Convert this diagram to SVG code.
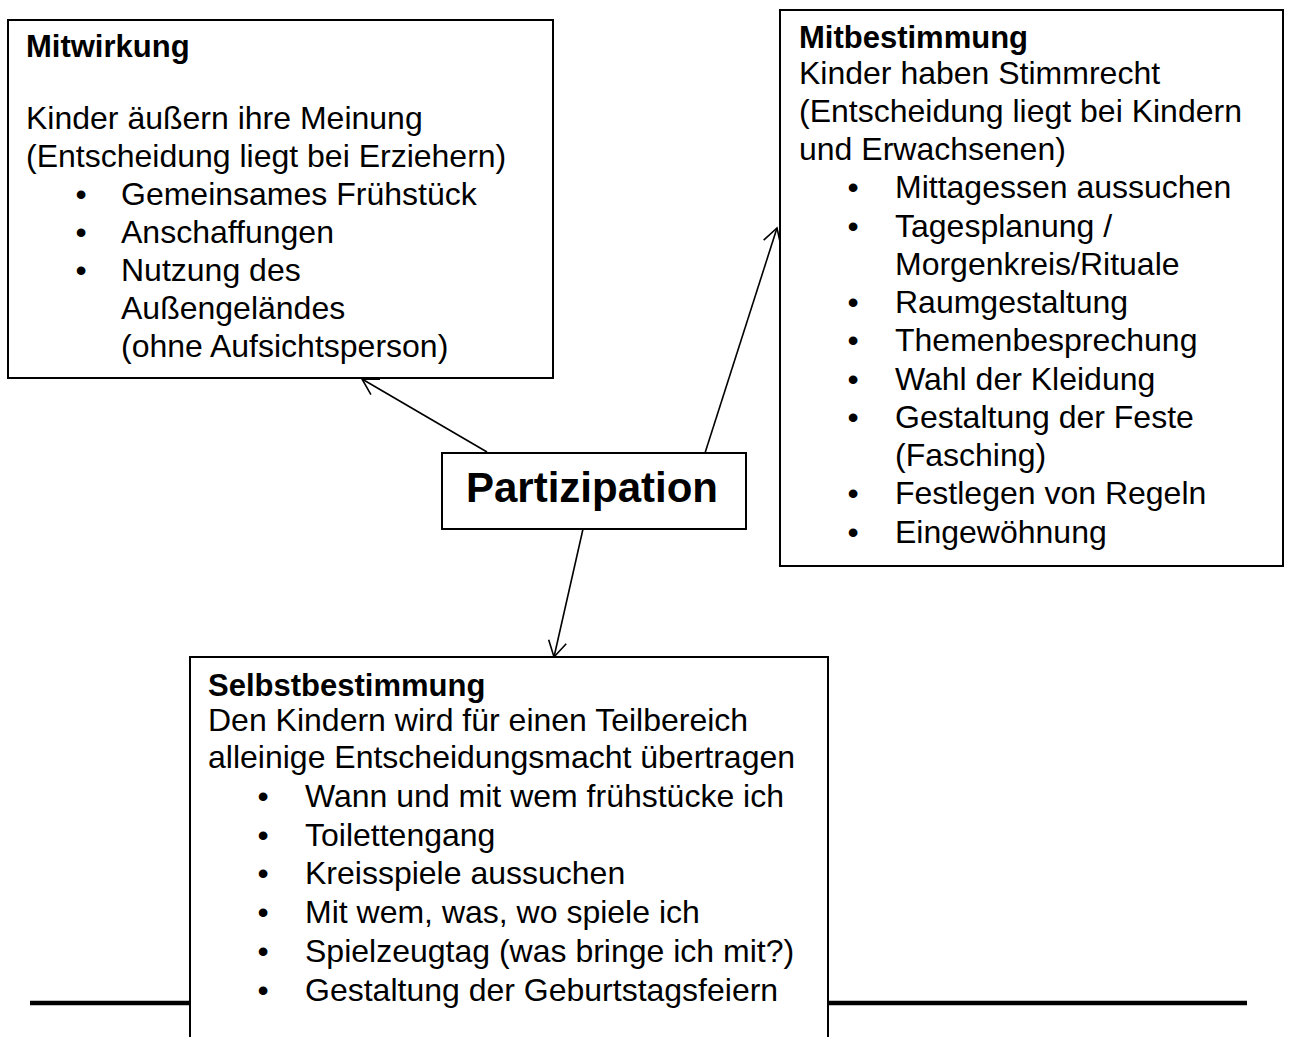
<svg xmlns="http://www.w3.org/2000/svg" width="1295" height="1037" viewBox="0 0 1295 1037">
<defs>
<style>
.box{fill:#fff;stroke:#000;stroke-width:2}
.t{font-family:"Liberation Sans",Arial,sans-serif;font-size:32px;fill:#000}
.h{font-family:"Liberation Sans",Arial,sans-serif;font-size:31px;font-weight:bold;fill:#000}
.big{font-family:"Liberation Sans",Arial,sans-serif;font-size:42px;font-weight:bold;fill:#000}
.b{text-anchor:middle}
.conn{stroke:#000;stroke-width:1.6;fill:none}
</style>
<marker id="arr" markerUnits="userSpaceOnUse" markerWidth="40" markerHeight="40" viewBox="-20 -20 40 40" refX="0" refY="0" orient="auto">
<path d="M-15.6,-9 L0,0 L-15.6,9" fill="none" stroke="#000" stroke-width="1.6"/>
</marker>
</defs>
<rect width="1295" height="1037" fill="#fff"/>
<line x1="30" y1="1003" x2="1247" y2="1003" stroke="#000" stroke-width="4.5"/>
<g id="connectors">
<line class="conn" x1="487" y1="452" x2="362" y2="379" marker-end="url(#arr)"/>
<line class="conn" x1="705" y1="453" x2="777" y2="228" marker-end="url(#arr)"/>
<line class="conn" x1="583" y1="529" x2="554" y2="657" marker-end="url(#arr)"/>
</g>
<g id="mitwirkung">
<rect class="box" x="8" y="20" width="545" height="358"/>
<text class="h" x="26" y="57">Mitwirkung</text>
<text class="t" x="26" y="129">Kinder äußern ihre Meinung</text>
<text class="t" x="26" y="167">(Entscheidung liegt bei Erziehern)</text>
<text class="t b" x="81" y="205">•</text>
<text class="t" x="121" y="205">Gemeinsames Frühstück</text>
<text class="t b" x="81" y="243">•</text>
<text class="t" x="121" y="243">Anschaffungen</text>
<text class="t b" x="81" y="281">•</text>
<text class="t" x="121" y="281">Nutzung des</text>
<text class="t" x="121" y="319">Außengeländes</text>
<text class="t" x="121" y="357">(ohne Aufsichtsperson)</text>
</g>
<g id="mitbestimmung">
<rect class="box" x="780" y="10" width="503" height="556"/>
<text class="h" x="799" y="48">Mitbestimmung</text>
<text class="t" x="799" y="84">Kinder haben Stimmrecht</text>
<text class="t" x="799" y="122">(Entscheidung liegt bei Kindern</text>
<text class="t" x="799" y="160">und Erwachsenen)</text>
<text class="t b" x="853" y="198">•</text>
<text class="t" x="895" y="198">Mittagessen aussuchen</text>
<text class="t b" x="853" y="237">•</text>
<text class="t" x="895" y="237">Tagesplanung /</text>
<text class="t" x="895" y="275">Morgenkreis/Rituale</text>
<text class="t b" x="853" y="313">•</text>
<text class="t" x="895" y="313">Raumgestaltung</text>
<text class="t b" x="853" y="351">•</text>
<text class="t" x="895" y="351">Themenbesprechung</text>
<text class="t b" x="853" y="390">•</text>
<text class="t" x="895" y="390">Wahl der Kleidung</text>
<text class="t b" x="853" y="428">•</text>
<text class="t" x="895" y="428">Gestaltung der Feste</text>
<text class="t" x="895" y="466">(Fasching)</text>
<text class="t b" x="853" y="504">•</text>
<text class="t" x="895" y="504">Festlegen von Regeln</text>
<text class="t b" x="853" y="543">•</text>
<text class="t" x="895" y="543">Eingewöhnung</text>
</g>
<g id="partizipation">
<rect class="box" x="442" y="453" width="304" height="76"/>
<text class="big" x="592" y="502" text-anchor="middle">Partizipation</text>
</g>
<g id="selbstbestimmung">
<rect class="box" x="190" y="657" width="638" height="400"/>
<text class="h" x="208" y="696">Selbstbestimmung</text>
<text class="t" x="208" y="731">Den Kindern wird für einen Teilbereich</text>
<text class="t" x="208" y="768">alleinige Entscheidungsmacht übertragen</text>
<text class="t b" x="263" y="807">•</text>
<text class="t" x="305" y="807">Wann und mit wem frühstücke ich</text>
<text class="t b" x="263" y="846">•</text>
<text class="t" x="305" y="846">Toilettengang</text>
<text class="t b" x="263" y="884">•</text>
<text class="t" x="305" y="884">Kreisspiele aussuchen</text>
<text class="t b" x="263" y="923">•</text>
<text class="t" x="305" y="923">Mit wem, was, wo spiele ich</text>
<text class="t b" x="263" y="962">•</text>
<text class="t" x="305" y="962">Spielzeugtag (was bringe ich mit?)</text>
<text class="t b" x="263" y="1001">•</text>
<text class="t" x="305" y="1001">Gestaltung der Geburtstagsfeiern</text>
</g>
</svg>
